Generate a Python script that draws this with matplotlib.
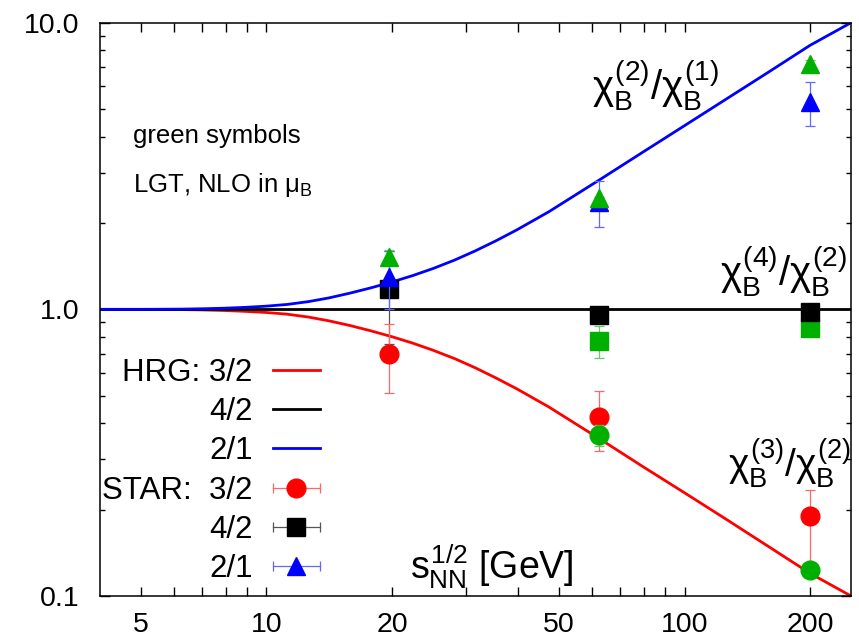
"""
Baryon number cumulant ratios vs sqrt(s_NN): HRG curves, STAR data and
LGT (NLO in mu_B) points. Log-log, gnuplot-like styling.
"""

import matplotlib
matplotlib.use("Agg")
import matplotlib.pyplot as plt  # noqa: E402
from matplotlib.legend_handler import HandlerBase  # noqa: E402
from matplotlib.lines import Line2D  # noqa: E402

plt.rcParams["font.family"] = ["Liberation Sans", "DejaVu Sans"]
plt.rcParams["mathtext.fontset"] = "custom"
plt.rcParams["mathtext.rm"] = "Liberation Sans"
plt.rcParams["mathtext.it"] = "Liberation Sans"
plt.rcParams["mathtext.sf"] = "Liberation Sans"

# ---------------------------------------------------------------------------
# data
# ---------------------------------------------------------------------------
x_hrg = [4, 5, 6.3, 7.1, 7.9, 8.9, 10, 11.2, 12.6, 14.1, 15.8, 17.8, 20,
         22.4, 25.1, 28.2, 31.6, 35.5, 39.8, 47.3, 63.1, 79.4, 100, 125.9,
         158.5, 199.5, 250]
hrg_21 = [1.0, 1.0, 1.002, 1.005, 1.009, 1.016, 1.026, 1.040, 1.064, 1.096,
          1.138, 1.189, 1.247, 1.312, 1.390, 1.486, 1.600, 1.738, 1.897,
          2.188, 2.851, 3.532, 4.375, 5.420, 6.714, 8.337, 10.0]
hrg_32 = [1.0, 1.0, 0.998, 0.995, 0.991, 0.984, 0.975, 0.962, 0.940, 0.912,
          0.879, 0.841, 0.802, 0.762, 0.719, 0.673, 0.625, 0.575, 0.527,
          0.457, 0.351, 0.283, 0.229, 0.185, 0.149, 0.120, 0.100]
x_hrg42 = [4, 250]
hrg_42 = [1.0, 1.0]

x_star = [19.6, 62.4, 200]
star_32 = [0.70, 0.42, 0.19]
star_32_lo = [0.19, 0.10, 0.065]
star_32_hi = [0.19, 0.10, 0.045]
star_42 = [1.18, 0.955, 0.98]
star_42_err = [0.42, 0.03, 0.03]
star_21 = [1.30, 2.37, 5.3]
star_21_err = [0.30, 0.43, 0.93]

x_lgt21 = [19.6, 62.4, 200]
lgt_21 = [1.52, 2.44, 7.2]
lgt_21_err = [0.09, 0.03, 0.2]
x_lgt = [62.4, 200]
lgt_42 = [0.775, 0.86]
lgt_42_err = [0.10, 0.02]
lgt_32 = [0.364, 0.123]
lgt_32_err = [0.03, 0.005]

xtick_vals = [5, 10, 20, 50, 100, 200]
xtick_labels = ["5", "10", "20", "50", "100", "200"]
xminor_vals = [6, 7, 8, 9, 30, 40, 60, 70, 80, 90]
ytick_vals = [0.1, 1.0, 10.0]
ytick_labels = ["0.1", "1.0", "10.0"]
yminor_vals = [0.2, 0.3, 0.4, 0.5, 0.6, 0.7, 0.8, 0.9,
               2, 3, 4, 5, 6, 7, 8, 9]

RED, BLUE, GREEN = "#ff0000", "#0000ff", "#00b000"
RED_E, BLUE_E, GREEN_E, BLACK_E = "#ff6666", "#6666ff", "#66cc66", "#555555"


class HandlerErrKey(HandlerBase):
    """gnuplot-style key sample: horizontal bar with caps, marker in middle."""

    def create_artists(self, legend, orig, xdescent, ydescent, width, height,
                       fontsize, trans):
        y = height / 2 - ydescent
        x0, x1 = -xdescent, -xdescent + width
        bar = Line2D([x0, x1], [y, y], color=orig.get_color(), lw=0.9,
                     marker="|", markersize=7, markeredgewidth=0.9)
        dot = Line2D([(x0 + x1) / 2], [y], ls="none", marker=orig.get_marker(),
                     markersize=orig.get_markersize(),
                     markerfacecolor=orig.get_markerfacecolor(),
                     markeredgecolor=orig.get_markeredgecolor())
        bar.set_transform(trans)
        dot.set_transform(trans)
        return [bar, dot]


fig = plt.figure(figsize=(8.59, 6.41), dpi=100)
ax = fig.add_axes([0.1164, 0.0702, 0.8743, 0.8944])
ax.set_xscale("log")
ax.set_yscale("log")
ax.set_xlim(4, 250)
ax.set_ylim(0.1, 10)

# HRG curves
l32, = ax.plot(x_hrg, hrg_32, color=RED, lw=2, zorder=2)
l42, = ax.plot(x_hrg42, hrg_42, color="black", lw=2, zorder=2)
l21, = ax.plot(x_hrg, hrg_21, color=BLUE, lw=2, zorder=2)

ekw = dict(ls="none", elinewidth=0.9, capsize=3.5, capthick=0.9)
# LGT squares under the STAR squares
ax.errorbar(x_lgt, lgt_42, yerr=lgt_42_err, marker="s", ms=13, color=GREEN,
            ecolor=GREEN_E, zorder=3, **ekw)
ax.errorbar(x_star, star_42, yerr=star_42_err, marker="s", ms=13,
            color="black", ecolor=BLACK_E, zorder=4, **ekw)
ax.errorbar(x_star, star_32, yerr=[star_32_lo, star_32_hi], marker="o",
            ms=13.5, color=RED, ecolor=RED_E, zorder=4, **ekw)
ax.errorbar(x_lgt, lgt_32, yerr=lgt_32_err, marker="o", ms=13.5,
            color=GREEN, ecolor=GREEN_E, zorder=5, **ekw)
ax.errorbar(x_star, star_21, yerr=star_21_err, marker="^", ms=13,
            color=BLUE, ecolor=BLUE_E, zorder=5, **ekw)
ax.errorbar(x_lgt21, lgt_21, yerr=lgt_21_err, marker="^", ms=13,
            color=GREEN, ecolor=GREEN_E, zorder=6, **ekw)

# ticks
ax.set_xticks(xtick_vals)
ax.set_xticklabels(xtick_labels)
ax.set_xticks(xminor_vals, minor=True)
ax.set_xticklabels([], minor=True)
ax.set_yticks(ytick_vals)
ax.set_yticklabels(ytick_labels)
ax.set_yticks(yminor_vals, minor=True)
ax.set_yticklabels([], minor=True)
ax.tick_params(axis="both", which="both", direction="in", top=True,
               right=True, width=1.0, labelsize=20.5)
ax.tick_params(axis="x", which="both", length=6.5, pad=11.5)
ax.tick_params(axis="y", which="major", length=7, pad=15)
ax.tick_params(axis="y", which="minor", length=3.8)
for sp in ax.spines.values():
    sp.set_linewidth(1.1)

# labels inside the frame
ax.text(0.044, 0.790, "green symbols", transform=ax.transAxes, fontsize=18.5,
        va="baseline")
ax.text(0.044, 0.705, r"LGT, NLO in $\mu_{\rm B}$", transform=ax.transAxes,
        fontsize=18.5, va="baseline")
ax.text(0.655, 0.89, r"$\chi_{\rm B}^{(2)}/\chi_{\rm B}^{(1)}$",
        transform=ax.transAxes, fontsize=29, va="center")
ax.text(0.826, 0.567, r"$\chi_{\rm B}^{(4)}/\chi_{\rm B}^{(2)}$",
        transform=ax.transAxes, fontsize=29, va="center")
ax.text(0.836, 0.232, r"$\chi_{\rm B}^{(3)}/\chi_{\rm B}^{(2)}$",
        transform=ax.transAxes, fontsize=28, va="center")
ax.text(0.413, 0.052, r"$s_{\rm NN}^{1/2}$ [GeV]", transform=ax.transAxes,
        fontsize=27, va="center")

# key
p32 = Line2D([], [], color=RED_E, marker="o", ms=13.5, mfc=RED, mec=RED)
p42 = Line2D([], [], color=BLACK_E, marker="s", ms=13, mfc="black",
             mec="black")
p21 = Line2D([], [], color=BLUE_E, marker="^", ms=13, mfc=BLUE, mec=BLUE)
key_handles = [l32, l42, l21, p32, p42, p21]
key_labels = ["HRG: 3/2", "4/2", "2/1", "STAR:  3/2", "4/2", "2/1"]
hmap = {p: HandlerErrKey() for p in (p32, p42, p21)}
leg = ax.legend(key_handles, key_labels, handler_map=hmap, markerfirst=False,
                loc="upper right", bbox_to_anchor=(0.293, 0.416),
                frameon=False, fontsize=22.5, borderpad=0, borderaxespad=0,
                handlelength=1.52, handletextpad=0.64, labelspacing=0.30)

fig.savefig("out.png", dpi=100)
